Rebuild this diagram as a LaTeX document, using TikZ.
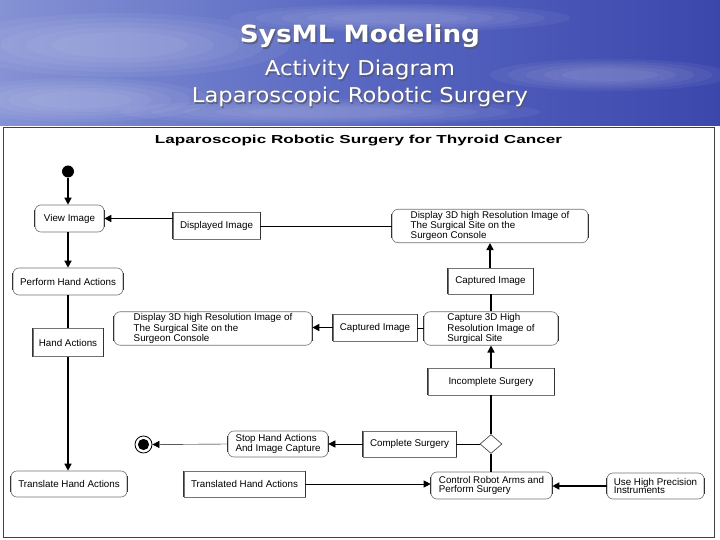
\documentclass[tikz,border=0pt]{standalone}
\usepackage{fontspec}
\setmainfont{Liberation Sans}
\newfontfamily\slidefont{DejaVu Sans}
\usetikzlibrary{arrows.meta,shapes.geometric}
\definecolor{skyL}{HTML}{8592D4}
\definecolor{skyM}{HTML}{5867C2}
\definecolor{skyR}{HTML}{3C47AC}
\definecolor{thin}{HTML}{9A9A9A}
\tikzset{
  nfont/.style={font=\fontsize{9.8}{8.8}\selectfont},
  act/.style={rectangle, rounded corners=6pt, draw=black!55, line width=0.6pt, fill=white, align=left, nfont, inner sep=2pt},
  obj/.style={rectangle, draw=black!55, line width=0.6pt, fill=white, align=left, nfont, inner sep=2pt},
  strong/.style={line width=1.4pt, black},
  weak/.style={line width=0.7pt, thin},
  tip/.style={-{Triangle[length=7pt,width=7pt,black]}},
  side/.style={line width=1.3pt, black!80},
  slide/.style={text=white, inner sep=0pt, anchor=base},
  shadowtxt/.style={text=black!65, inner sep=0pt, anchor=base, opacity=0.8},
  cloud/.style={white, opacity=0.05}
}
\begin{document}
\begin{tikzpicture}[x=1pt,y=-1pt]
\useasboundingbox (0,0) rectangle (720,540);
% sky background
\fill[white] (0,0) rectangle (720,540);
\shade[left color=skyL, right color=skyR, middle color=skyM] (0,0) rectangle (720,126);
\begin{scope}
\clip (0,0) rectangle (720,126);
\foreach \s in {1,0.85,0.7,0.55,0.4}{
  \fill[cloud] (120,45) ellipse [x radius=170*\s, y radius=32*\s];
  \fill[cloud] (80,100) ellipse [x radius=130*\s, y radius=22*\s];
  \fill[cloud] (400,18) ellipse [x radius=170*\s, y radius=14*\s];
  \fill[cloud] (610,75) ellipse [x radius=120*\s, y radius=16*\s];
  \fill[cloud] (330,112) ellipse [x radius=210*\s, y radius=13*\s];
}
\end{scope}
% slide titles
\node[shadowtxt] at (361.5,44.5) {\resizebox{240pt}{18pt}{\slidefont\bfseries SysML Modeling}};
\node[slide] (t1) at (360,43) {\resizebox{240pt}{18pt}{\slidefont\bfseries SysML Modeling}};
\node[shadowtxt] at (361.2,77.2) {\resizebox{190pt}{15.5pt}{\slidefont Activity Diagram}};
\node[slide] (t2) at (360,76) {\resizebox{190pt}{15.5pt}{\slidefont Activity Diagram}};
\node[shadowtxt] at (361.2,104.2) {\resizebox{336pt}{15.5pt}{\slidefont Laparoscopic Robotic Surgery}};
\node[slide] (t3) at (360,103) {\resizebox{336pt}{15.5pt}{\slidefont Laparoscopic Robotic Surgery}};
% diagram frame
\draw[black!75, line width=1pt] (3,127.5) rectangle (714,537);
\node[anchor=base, inner sep=0pt] (dtitle) at (358.5,144) {\resizebox{407pt}{8.4pt}{\bfseries Laparoscopic Robotic Surgery for Thyroid Cancer}};
% nodes
\node[circle, fill=black, minimum size=12pt, inner sep=0pt] (init) at (68,171.5) {};
\node[act, minimum width=69pt, minimum height=27pt] (view) at (69.5,218.5) {View Image};
\node[obj, minimum width=87pt, minimum height=27pt] (dispimg) at (216.5,225.5) {Displayed Image};
\node[act, minimum width=196pt, minimum height=32pt] (disp3d) at (490,226) {Display 3D high Resolution Image of\\The Surgical Site on the\\Surgeon Console};
\node[act, minimum width=110pt, minimum height=27pt] (perform) at (68,281.5) {Perform Hand Actions};
\node[obj, minimum width=85pt, minimum height=26pt] (capt1) at (490.5,281) {Captured Image};
\node[act, minimum width=198pt, minimum height=31pt] (disp3dm) at (213,328.5) {Display 3D high Resolution Image of\\The Surgical Site on the\\Surgeon Console};
\node[obj, minimum width=84pt, minimum height=27pt] (capt2) at (375,327.5) {Captured Image};
\node[act, minimum width=134pt, minimum height=31pt] (capture) at (491,328.5) {Capture 3D High\\Resolution Image of\\Surgical Site};
\node[obj, minimum width=70pt, minimum height=28pt] (hand) at (68,342.5) {Hand Actions};
\node[obj, minimum width=126pt, minimum height=27pt] (incompl) at (491,381.5) {Incomplete Surgery};
\node[circle, draw=black, line width=0.8pt, minimum size=17pt, inner sep=0pt] (final) at (143.5,444.5) {};
\fill[black] (final.center) circle [radius=5.6pt];
\node[act, minimum width=100pt, minimum height=26pt] (stop) at (278,444) {Stop Hand Actions\\And Image Capture};
\node[obj, minimum width=93pt, minimum height=26pt] (compl) at (409.5,444) {Complete Surgery};
\node[diamond, draw=black!70, line width=0.7pt, fill=white, minimum width=22pt, minimum height=19pt, inner sep=0pt] (dec) at (491,444) {};
\node[act, minimum width=116pt, minimum height=26pt] (translate) at (69,484) {Translate Hand Actions};
\node[obj, minimum width=121pt, minimum height=26pt] (translated) at (244.5,484) {Translated Hand Actions};
\node[act, minimum width=121pt, minimum height=27pt] (control) at (491.5,485.5) {Control Robot Arms and\\Perform Surgery};
\node[act, minimum width=97pt, minimum height=26pt] (usehigh) at (655.5,486) {Use High Precision\\Instruments};
% darker side edges
\foreach \n in {view,disp3d,perform,disp3dm,capture,stop,translate,control,usehigh}
  \draw[side] ([yshift=-5pt]\n.north west) -- ([yshift=5pt]\n.south west)
              ([yshift=-5pt]\n.north east) -- ([yshift=5pt]\n.south east);
\foreach \n in {dispimg,capt1,capt2,hand,incompl,compl,translated}
  \draw[side] (\n.north west) -- (\n.south west) (\n.north east) -- (\n.south east);
% connectors
\draw[strong, tip] (init) -- (init |- view.north);
\draw[strong, tip] (init |- view.south) -- (init |- perform.north);
\draw[strong, tip] (dispimg.west |- view.east) -- (view.east);
\draw[weak] (disp3d.west) -- (disp3d.west -| dispimg.east);
\draw[strong, tip] (capt1.north -| disp3d.south) -- (disp3d.south);
\draw[strong] (capture.north) -- (capture.north |- capt1.south);
\draw[weak] (capture.west) -- (capture.west -| capt2.east);
\draw[strong, tip] (capt2.west) -- (capt2.west -| disp3dm.east);
\draw[strong] (perform.south) -- (hand.north -| perform.south);
\draw[strong, tip] (hand.south) -- (translate.north -| hand.south);
\draw[strong, tip] (incompl.north) -- (incompl.north |- capture.south);
\draw[strong] (dec.north) -- (dec.north |- incompl.south);
\draw[weak] (dec.west) -- (dec.west -| compl.east);
\draw[weak, tip] (compl.west) -- (compl.west -| stop.east);
\draw[weak, tip] (stop.west) -- (final.east);
\draw[strong] (control.north -| dec.south) -- (dec.south);
\draw[weak] (translated.east) -- ++(30,0) coordinate (mid1);
\draw[strong, line width=1pt, tip] (mid1) -- (mid1 -| control.west);
\draw[strong, tip] (usehigh.west) -- (usehigh.west -| control.east);
\end{tikzpicture}
\end{document}
